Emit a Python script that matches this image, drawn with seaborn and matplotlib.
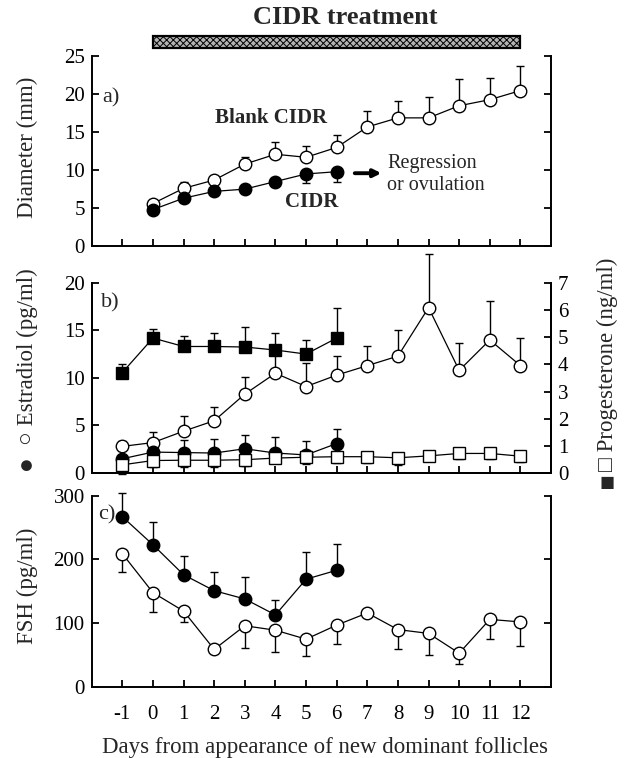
import matplotlib
matplotlib.use("Agg")
import matplotlib.pyplot as plt
import seaborn as sns
from matplotlib.patches import Rectangle

# panel a: follicle diameter (mm), days 0..12
days_a = list(range(0, 13))
blank_diam = [5.6, 7.6, 8.7, 10.8, 12.1, 11.7, 13.0, 15.7, 16.9, 16.9, 18.5, 19.3, 20.5]
blank_diam_err = [0.2, 0.8, 0.4, 0.9, 1.6, 1.5, 1.7, 2.15, 2.2, 2.8, 3.5, 2.8, 3.2]
days_cidr = list(range(0, 7))
cidr_diam = [4.8, 6.3, 7.2, 7.5, 8.5, 9.5, 9.8]
cidr_diam_err = [0.2, 0.3, 0.3, 0.3, 0.3, 1.2, 1.3]

# panel b: estradiol (pg/ml) and progesterone (ng/ml), days -1..12
days_b = list(range(-1, 13))
days_b_cidr = list(range(-1, 7))
blank_e2 = [2.8, 3.2, 4.4, 5.5, 8.3, 10.5, 9.1, 10.3, 11.3, 12.3, 17.4, 10.8, 14.0, 11.3]
blank_e2_err = [0.6, 1.1, 1.6, 1.45, 1.8, 2.4, 2.5, 2.0, 2.1, 2.7, 5.6, 2.9, 4.1, 2.9]
cidr_e2 = [1.5, 2.2, 2.15, 2.1, 2.55, 2.1, 1.9, 3.1]
cidr_e2_err = [0.3, 1.0, 1.3, 1.45, 1.5, 1.7, 1.5, 1.5]
blank_p4 = [0.30, 0.46, 0.47, 0.47, 0.49, 0.55, 0.58, 0.60, 0.60, 0.56, 0.63, 0.72, 0.72, 0.62]
blank_p4_err = [0.35, 0.25, 0.25, 0.25, 0.25, 0.2, 0.25, 0.25, 0.25, 0.25, 0.2, 0.2, 0.2, 0.2]
cidr_p4 = [3.7, 4.97, 4.66, 4.66, 4.64, 4.53, 4.38, 4.97]
cidr_p4_err = [0.33, 0.33, 0.4, 0.48, 0.72, 0.63, 0.53, 1.1]

# panel c: FSH (pg/ml)
blank_fsh = [209, 148, 119, 59, 96, 89, 75, 97, 116, 90, 84, 53, 106, 102]
blank_fsh_err = [29, 30, 17, 5, 35, 34, 26, 30, 3, 30, 34, 17, 30, 37]
cidr_fsh = [267, 223, 176, 151, 138, 113, 169, 183]
cidr_fsh_err = [37, 35, 29, 30, 35, 23, 42, 41]

day_ticks = list(range(-1, 13))

sns.set_style("ticks")
plt.rcParams["font.family"] = ["Liberation Serif", "DejaVu Serif", "DejaVu Sans"]
plt.rcParams["axes.unicode_minus"] = False
plt.rcParams["hatch.linewidth"] = 0.7

TICK_FS = 15
LAB_FS = 16.5

fig = plt.figure(figsize=(6.25, 7.58), dpi=100)
ax_a = fig.add_axes([0.1467, 0.6755, 0.735, 0.25])
ax_b = fig.add_axes([0.1467, 0.376, 0.735, 0.2507])
ax_c = fig.add_axes([0.1467, 0.0937, 0.735, 0.2524])


def series(ax, x, y, err, filled, marker="o", down=False, ms=9):
    zeros = [0] * len(err)
    yerr = [err, zeros] if down else [zeros, err]
    ax.errorbar(x, y, yerr=yerr, fmt="none", ecolor="black", elinewidth=1,
                capsize=3, capthick=1, zorder=1, clip_on=False)
    sns.lineplot(x=x, y=y, ax=ax, color="black", lw=0.9, marker=marker,
                 markersize=ms, markerfacecolor="black" if filled else "white",
                 markeredgecolor="black", markeredgewidth=1, legend=False,
                 zorder=3, clip_on=False)


def style(ax, right_ticks=True):
    ax.set_xlim(-2, 13)
    ax.set_xticks(day_ticks)
    sns.despine(ax=ax, top=True, right=False)
    for s in ax.spines.values():
        s.set_linewidth(1.4)
        s.set_color("black")
    ax.tick_params(direction="in", length=5, width=1.3, labelsize=TICK_FS,
                   colors="black", pad=5)
    if right_ticks:
        ax.tick_params(axis="y", right=True, labelright=False)
    ax.set_xlabel("")
    ax.set_ylabel("")


# ---- panel a
series(ax_a, days_a, blank_diam, blank_diam_err, False)
series(ax_a, days_cidr, cidr_diam, cidr_diam_err, True, down=True)
ax_a.set_ylim(0, 25)
ax_a.set_yticks([0, 5, 10, 15, 20, 25])
style(ax_a)
ax_a.set_xticklabels([])
ax_a.text(-1.65, 19.5, "a)", fontsize=16, va="center")
ax_a.text(3.85, 16.9, "Blank CIDR", fontsize=15, fontweight="bold", ha="center", va="center")
ax_a.text(5.2, 5.8, "CIDR", fontsize=15, fontweight="bold", ha="center", va="center")
ax_a.annotate("", xy=(7.55, 9.6), xytext=(6.5, 9.6),
              arrowprops=dict(arrowstyle="-|>", lw=2.8, color="black", mutation_scale=11))
ax_a.text(7.65, 9.4, "Regression\nor ovulation", fontsize=14.5, ha="left", va="center",
          linespacing=1.25)
ax_a.add_patch(Rectangle((0, 26.1), 12, 1.6, facecolor="#b4b4b4", edgecolor="black",
                         hatch="xxxxx", lw=1.6, clip_on=False))
fig.text(0.552, 0.977, "CIDR treatment", fontsize=19, fontweight="bold",
         ha="center", va="center")

# ---- panel b
ax_b2 = ax_b.twinx()
series(ax_b, days_b, blank_e2, blank_e2_err, False)
series(ax_b, days_b_cidr, cidr_e2, cidr_e2_err, True)
series(ax_b2, days_b, blank_p4, blank_p4_err, False, marker="s", down=True, ms=8.5)
series(ax_b2, days_b_cidr, cidr_p4, cidr_p4_err, True, marker="s", ms=8.5)
ax_b.set_ylim(0, 20)
ax_b.set_yticks([0, 5, 10, 15, 20])
ax_b2.set_ylim(0, 7)
ax_b2.set_yticks(range(0, 8))
style(ax_b, right_ticks=False)
style(ax_b2, right_ticks=False)
ax_b2.spines["top"].set_visible(False)
ax_b.set_xticklabels([])
ax_b2.tick_params(axis="y", direction="in", labelsize=TICK_FS, pad=5)
ax_b.text(-1.7, 17.9, "b)", fontsize=16, va="center")

# ---- panel c
series(ax_c, days_b, blank_fsh, blank_fsh_err, False, down=True)
series(ax_c, days_b_cidr, cidr_fsh, cidr_fsh_err, True)
ax_c.set_ylim(0, 300)
ax_c.set_yticks([0, 100, 200, 300])
style(ax_c)
ax_c.set_xticklabels([str(d) for d in day_ticks])
ax_c.tick_params(axis="x", pad=13)
ax_c.text(-1.8, 270, "c)", fontsize=16, va="center")

# axis labels
fig.text(0.52, 0.0145, "Days from appearance of new dominant follicles", fontsize=16.5,
         ha="center", va="center")
fig.text(0.044, 0.806, "Diameter (mm)", fontsize=LAB_FS, rotation=90, ha="center", va="center")
fig.text(0.044, 0.53, "○ Estradiol (pg/ml)", fontsize=LAB_FS, rotation=90,
         ha="center", va="center")
fig.text(0.042, 0.384, "●", fontsize=18, ha="center", va="center")
fig.text(0.972, 0.52, "□ Progesterone (ng/ml)", fontsize=LAB_FS, rotation=90,
         ha="center", va="center")
fig.text(0.972, 0.362, "■", fontsize=18, ha="center", va="center")
fig.text(0.044, 0.227, "FSH (pg/ml)", fontsize=LAB_FS, rotation=90, ha="center", va="center")

fig.savefig("out.png", dpi=100)
